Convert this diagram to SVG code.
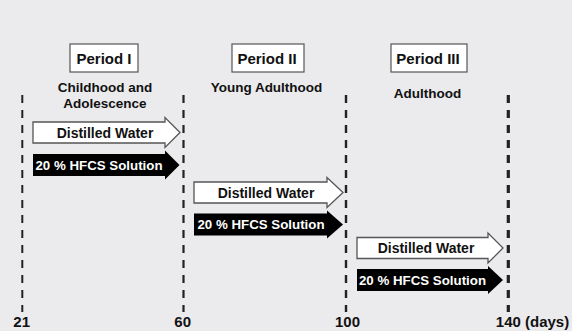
<svg xmlns="http://www.w3.org/2000/svg" width="572" height="331" viewBox="0 0 572 331">
<style>
text{font-family:"Liberation Sans",Arial,sans-serif;font-weight:bold;fill:#111;text-anchor:middle}
.per{font-size:15px}
.sub{font-size:13.5px}
.dw{font-size:14px}
.hf{font-size:13.3px;fill:#fff}
.ax{font-size:15px}
.box{fill:#fff;stroke:#555;stroke-width:1.2}
.wa{fill:#fff;stroke:#555;stroke-width:1.3;stroke-linejoin:miter}
.ba{fill:#000}
.dash{stroke:#222;stroke-dasharray:8 7;fill:none}
</style>
<rect width="572" height="331" fill="#ebebed"/>
<g id="connectors">
<line class="dash" x1="22.3" y1="95" x2="22.3" y2="312" stroke-width="2"/>
<line class="dash" x1="183.5" y1="95" x2="183.5" y2="312" stroke-width="2.2"/>
<line class="dash" x1="346" y1="95" x2="346" y2="312" stroke-width="2.4"/>
<line class="dash" x1="508.3" y1="95" x2="508.3" y2="312" stroke-width="3.2"/>
</g>
<g id="period1">
<rect class="box" x="70" y="44" width="68" height="28"/>
<text class="per" x="104" y="63.5">Period I</text>
<text class="sub" x="105" y="92">Childhood and</text>
<text class="sub" x="105" y="108">Adolescence</text>
</g>
<g id="period2">
<rect class="box" x="232" y="44" width="72" height="28"/>
<text class="per" x="267" y="63.5">Period II</text>
<text class="sub" x="266.5" y="92">Young Adulthood</text>
</g>
<g id="period3">
<rect class="box" x="391" y="44" width="76" height="28"/>
<text class="per" x="428" y="63.5">Period III</text>
<text class="sub" x="427.5" y="98">Adulthood</text>
</g>
<g id="water1">
<polygon class="wa" points="33,122 165,122 165,117.5 180,132.5 165,147.5 165,143 33,143"/>
<text class="dw" x="105" y="137.5">Distilled Water</text>
</g>
<g id="hfcs1">
<polygon class="ba" points="33,154 165,154 165,150.5 179.5,165 165,179.5 165,176 33,176"/>
<text class="hf" x="99" y="169.5">20 % HFCS Solution</text>
</g>
<g id="water2">
<polygon class="wa" points="194,182 327,182 327,177.5 343,192.5 327,207.5 327,203 194,203"/>
<text class="dw" x="266" y="197.5">Distilled Water</text>
</g>
<g id="hfcs2">
<polygon class="ba" points="194,213.5 327,213.5 327,210.5 343,224.5 327,238.5 327,235.5 194,235.5"/>
<text class="hf" x="261" y="229">20 % HFCS Solution</text>
</g>
<g id="water3">
<polygon class="wa" points="357,237.5 488,237.5 488,233 503,248 488,263 488,258.5 357,258.5"/>
<text class="dw" x="426" y="253">Distilled Water</text>
</g>
<g id="hfcs3">
<polygon class="ba" points="357,269 488,269 488,266 503,280 488,294 488,291 357,291"/>
<text class="hf" x="422.5" y="284.5">20 % HFCS Solution</text>
</g>
<g id="axis">
<text class="ax" x="21.7" y="327">21</text>
<text class="ax" x="182.7" y="327">60</text>
<text class="ax" x="347.5" y="327">100</text>
<text class="ax" x="532.5" y="327">140 (days)</text>
</g>
</svg>
